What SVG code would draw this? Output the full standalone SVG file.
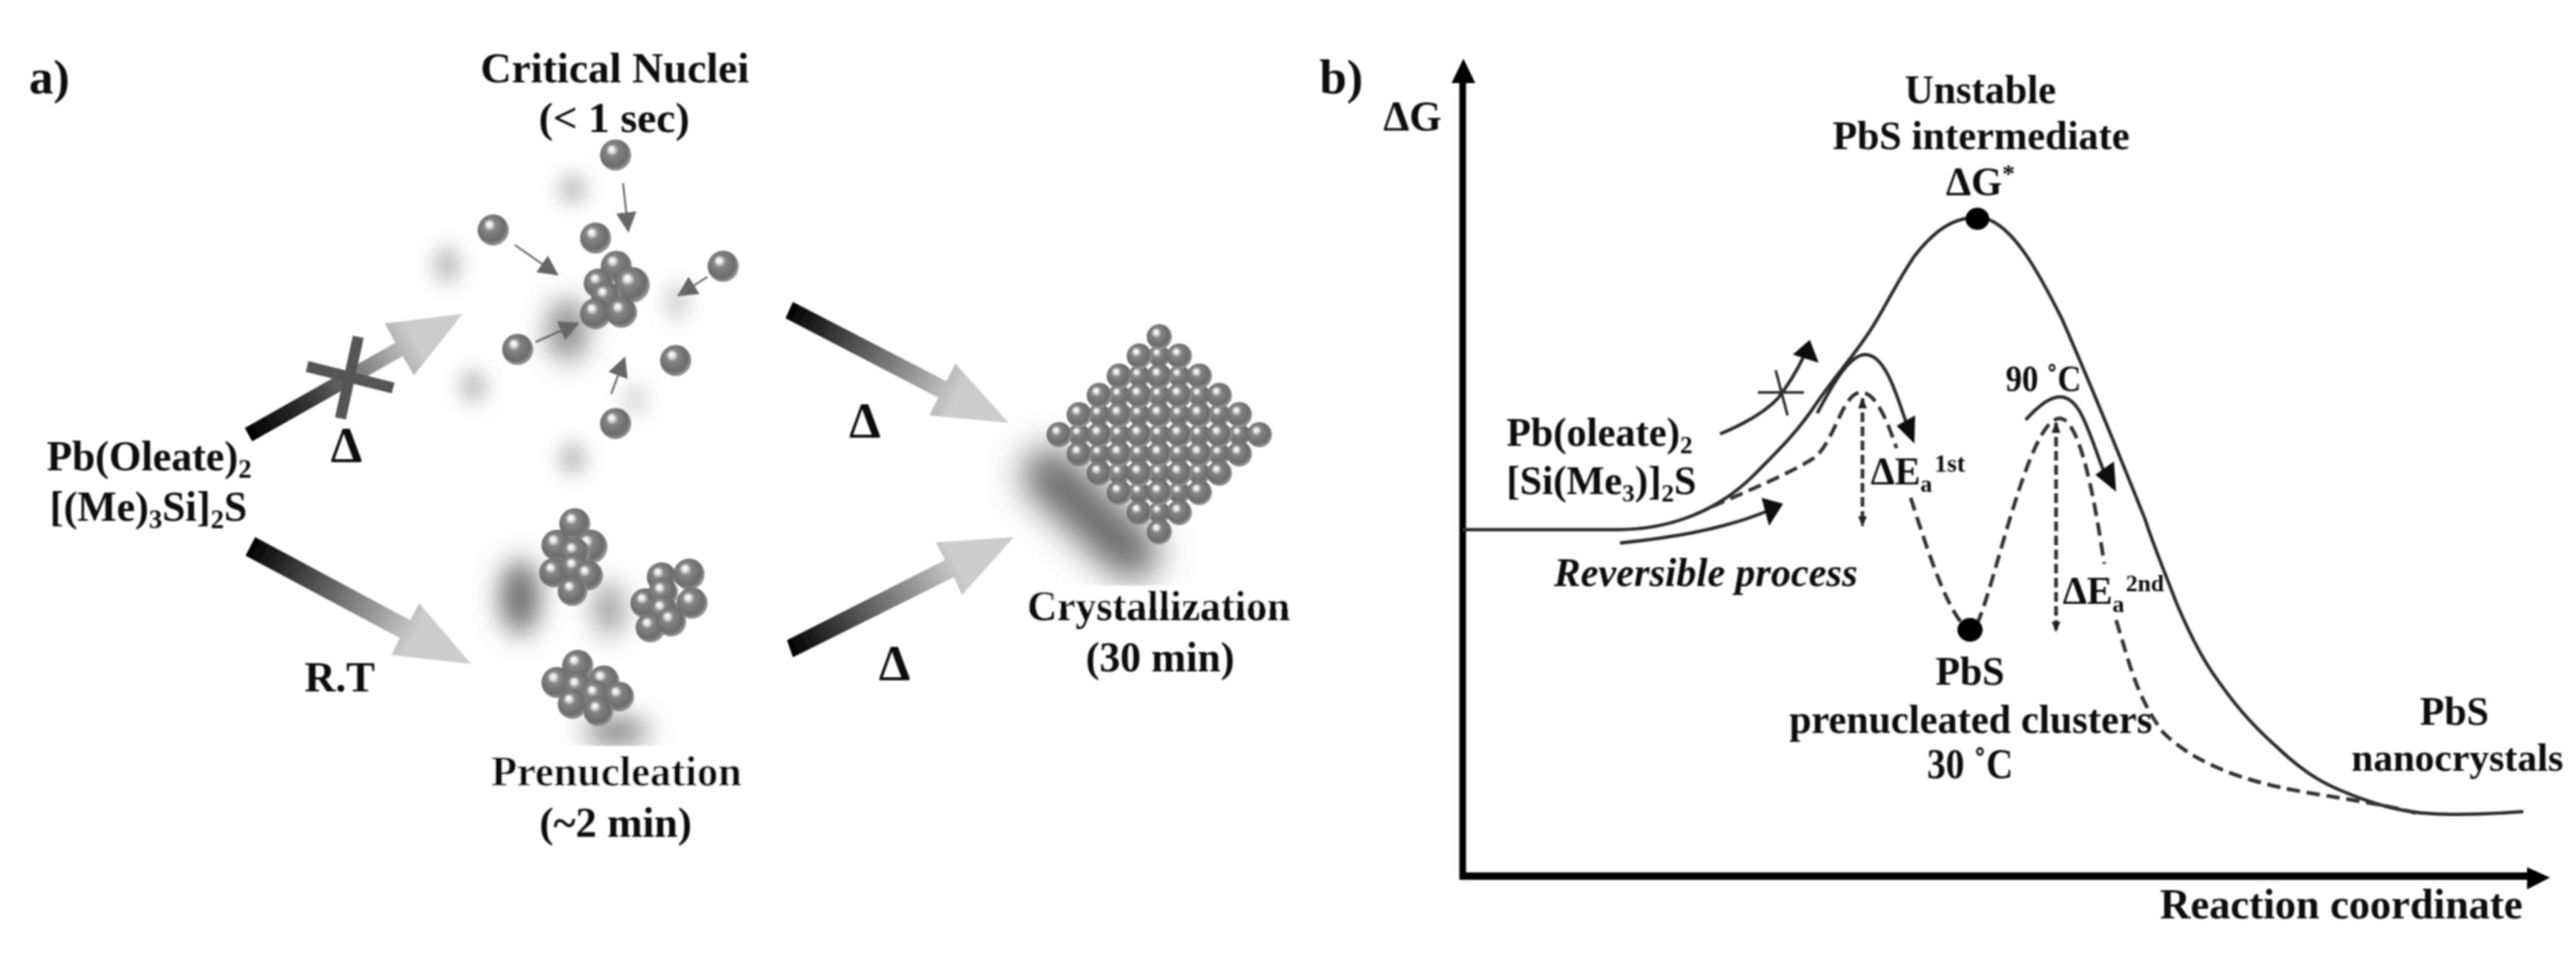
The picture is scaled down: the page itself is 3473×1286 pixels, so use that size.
<svg xmlns="http://www.w3.org/2000/svg" width="3473" height="1286" viewBox="0 0 3473 1286">
<style>
.t{font-family:"Liberation Serif","Times New Roman",serif;font-weight:bold;fill:#111;font-size:56px}
.m{text-anchor:middle}
.b{fill:url(#ball)}
.ink{fill:none;stroke:#2a2a2a;stroke-width:4.5}
.dash{fill:none;stroke:#333;stroke-width:5;stroke-dasharray:18 9}
.head{fill:#111}
.thin{stroke:#666;stroke-width:2.5;fill:none;marker-end:url(#grayHead)}
.shade{fill:#999;filter:url(#blurS)}
.shadeL{fill:#666;filter:url(#blurL)}
.bar{fill:none;stroke:#555;stroke-width:15}
</style>
<defs>
<radialGradient id="ball" cx=".45" cy=".45" r=".6" fx=".36" fy=".3">
<stop offset="0" stop-color="#fff"/><stop offset=".14" stop-color="#e8e8e8"/><stop offset=".32" stop-color="#858585"/><stop offset=".75" stop-color="#6b6b6b"/><stop offset="1" stop-color="#ababab"/>
</radialGradient>
<linearGradient id="g1" gradientUnits="userSpaceOnUse" x1="335" y1="586" x2="560" y2="458"><stop offset="0" stop-color="#000"/><stop offset=".35" stop-color="#333"/><stop offset="1" stop-color="#ccc"/></linearGradient>
<linearGradient id="g2" gradientUnits="userSpaceOnUse" x1="337" y1="736" x2="560" y2="855"><stop offset="0" stop-color="#000"/><stop offset="1" stop-color="#ccc"/></linearGradient>
<linearGradient id="g3" gradientUnits="userSpaceOnUse" x1="1064" y1="418" x2="1290" y2="535"><stop offset="0" stop-color="#000"/><stop offset="1" stop-color="#ccc"/></linearGradient>
<linearGradient id="g4" gradientUnits="userSpaceOnUse" x1="1065" y1="875" x2="1290" y2="760"><stop offset="0" stop-color="#000"/><stop offset="1" stop-color="#ccc"/></linearGradient>
<filter id="blurS" x="-100%" y="-100%" width="300%" height="300%"><feGaussianBlur stdDeviation="13"/></filter>
<filter id="blurL" x="-100%" y="-100%" width="300%" height="300%"><feGaussianBlur stdDeviation="18"/></filter>
<filter id="blurX" filterUnits="userSpaceOnUse" x="1250" y="500" width="420" height="400"><feGaussianBlur stdDeviation="24"/></filter>
<filter id="soft" filterUnits="userSpaceOnUse" x="0" y="0" width="3473" height="1286"><feGaussianBlur stdDeviation="1.1"/></filter>
<marker id="grayHead" viewBox="0 0 10 10" refX="9" refY="5" markerWidth="11" markerHeight="11" orient="auto-start-reverse" markerUnits="strokeWidth"><path d="M0 0L10 5L0 10z" fill="#666"/></marker>
<marker id="tiny" viewBox="0 0 10 10" refX="9" refY="5" markerWidth="3" markerHeight="3" orient="auto-start-reverse" markerUnits="strokeWidth"><path d="M0 1L10 5L0 9z" fill="#222"/></marker>
</defs>
<rect width="3473" height="1286" fill="#fff"/>
<g filter="url(#soft)">

<g id="shadows">
<ellipse class="shade" cx="772" cy="255" rx="18" ry="20" opacity=".65"/>
<ellipse class="shade" cx="603" cy="357" rx="18" ry="25" opacity=".65"/>
<ellipse class="shade" cx="638" cy="521" rx="18" ry="22" opacity=".65"/>
<ellipse class="shade" cx="772" cy="618" rx="18" ry="22" opacity=".65"/>
<ellipse class="shade" cx="912" cy="407" rx="16" ry="26" opacity=".45"/>
<ellipse class="shade" cx="856" cy="539" rx="18" ry="22" opacity=".35"/>
<ellipse class="shadeL" cx="765" cy="445" rx="28" ry="42" opacity=".75"/>
<ellipse class="shadeL" cx="701" cy="805" rx="26" ry="50"/>
<ellipse class="shadeL" cx="821" cy="821" rx="20" ry="36" opacity=".7"/>
<ellipse class="shadeL" cx="831" cy="986" rx="44" ry="16"/>
<rect x="620" y="1006" width="420" height="60" fill="#fff"/>
<path d="M1415 640L1525 745" fill="none" stroke="#666" stroke-width="72" stroke-linecap="round" filter="url(#blurX)"/>
<rect x="1350" y="790" width="420" height="30" fill="#fff"/>
</g>

<g id="node-critical-nuclei">
<text class="t m" x="829" y="111" style="font-size:58px">Critical Nuclei</text>
<text class="t m" x="828" y="178" style="font-size:58px">(&lt; 1 sec)</text>
<circle class="b" cx="830" cy="209" r="21"/>
<circle class="b" cx="665" cy="310" r="21"/>
<circle class="b" cx="803" cy="321" r="21"/>
<circle class="b" cx="975" cy="359" r="21"/>
<circle class="b" cx="698" cy="471" r="21"/>
<circle class="b" cx="911" cy="486" r="21"/>
<circle class="b" cx="830" cy="571" r="21"/>
<circle class="b" cx="831" cy="359" r="21"/>
<circle class="b" cx="807" cy="382" r="20"/>
<circle class="b" cx="852" cy="384" r="24"/>
<circle class="b" cx="817" cy="400" r="20"/>
<circle class="b" cx="803" cy="423" r="21"/>
<circle class="b" cx="838" cy="421" r="21"/>
<path class="thin" d="M840 247L847 311"/>
<path class="thin" d="M694 330L751 370"/>
<path class="thin" d="M954 373L915 398"/>
<path class="thin" d="M722 461L779 436"/>
<path class="thin" d="M824 531L842 483"/>
</g>

<g id="node-prenucleation">
<circle class="b" cx="775" cy="706" r="21"/><circle class="b" cx="751" cy="735" r="21"/><circle class="b" cx="796" cy="737" r="23"/><circle class="b" cx="775" cy="745" r="20"/><circle class="b" cx="747" cy="772" r="20"/><circle class="b" cx="775" cy="766" r="20"/><circle class="b" cx="793" cy="776" r="20"/><circle class="b" cx="772" cy="797" r="20"/>
<circle class="b" cx="892" cy="778" r="20"/><circle class="b" cx="929" cy="774" r="21"/><circle class="b" cx="870" cy="813" r="20"/><circle class="b" cx="894" cy="799" r="20"/><circle class="b" cx="933" cy="813" r="21"/><circle class="b" cx="894" cy="823" r="20"/><circle class="b" cx="877" cy="846" r="20"/><circle class="b" cx="905" cy="838" r="20"/>
<circle class="b" cx="779" cy="897" r="21"/><circle class="b" cx="751" cy="920" r="21"/><circle class="b" cx="814" cy="918" r="21"/><circle class="b" cx="779" cy="926" r="20"/><circle class="b" cx="803" cy="937" r="20"/><circle class="b" cx="772" cy="949" r="20"/><circle class="b" cx="835" cy="939" r="20"/><circle class="b" cx="807" cy="959" r="20"/>
<text class="t m" x="831" y="1059" style="font-size:57px">Prenucleation</text>
<text class="t m" x="830" y="1128" style="font-size:57px">(~2 min)</text>
</g>

<g id="node-crystallization">
<circle class="b" cx="1563" cy="480" r="15"/>
<circle class="b" cx="1536" cy="507" r="15"/><circle class="b" cx="1590" cy="507" r="15"/>
<circle class="b" cx="1509" cy="533" r="15"/><circle class="b" cx="1563" cy="533" r="15"/><circle class="b" cx="1617" cy="533" r="15"/>
<circle class="b" cx="1482" cy="559" r="15"/><circle class="b" cx="1536" cy="559" r="15"/><circle class="b" cx="1590" cy="559" r="15"/><circle class="b" cx="1644" cy="559" r="15"/>
<circle class="b" cx="1455" cy="586" r="15"/><circle class="b" cx="1509" cy="586" r="15"/><circle class="b" cx="1563" cy="586" r="15"/><circle class="b" cx="1617" cy="586" r="15"/><circle class="b" cx="1671" cy="586" r="15"/>
<circle class="b" cx="1482" cy="612" r="15"/><circle class="b" cx="1536" cy="612" r="15"/><circle class="b" cx="1590" cy="612" r="15"/><circle class="b" cx="1644" cy="612" r="15"/>
<circle class="b" cx="1509" cy="638" r="15"/><circle class="b" cx="1563" cy="638" r="15"/><circle class="b" cx="1617" cy="638" r="15"/>
<circle class="b" cx="1536" cy="664" r="15"/><circle class="b" cx="1590" cy="664" r="15"/>
<circle class="b" cx="1563" cy="691" r="15"/>
<circle class="b" cx="1563" cy="454" r="17"/>
<circle class="b" cx="1536" cy="480" r="17"/><circle class="b" cx="1590" cy="480" r="17"/>
<circle class="b" cx="1509" cy="507" r="17"/><circle class="b" cx="1563" cy="507" r="17"/><circle class="b" cx="1617" cy="507" r="17"/>
<circle class="b" cx="1482" cy="533" r="17"/><circle class="b" cx="1536" cy="533" r="17"/><circle class="b" cx="1590" cy="533" r="17"/><circle class="b" cx="1644" cy="533" r="17"/>
<circle class="b" cx="1455" cy="559" r="17"/><circle class="b" cx="1509" cy="559" r="17"/><circle class="b" cx="1563" cy="559" r="17"/><circle class="b" cx="1617" cy="559" r="17"/><circle class="b" cx="1671" cy="559" r="17"/>
<circle class="b" cx="1428" cy="586" r="17"/><circle class="b" cx="1482" cy="586" r="17"/><circle class="b" cx="1536" cy="586" r="17"/><circle class="b" cx="1590" cy="586" r="17"/><circle class="b" cx="1644" cy="586" r="17"/><circle class="b" cx="1698" cy="586" r="17"/>
<circle class="b" cx="1455" cy="612" r="17"/><circle class="b" cx="1509" cy="612" r="17"/><circle class="b" cx="1563" cy="612" r="17"/><circle class="b" cx="1617" cy="612" r="17"/><circle class="b" cx="1671" cy="612" r="17"/>
<circle class="b" cx="1482" cy="638" r="17"/><circle class="b" cx="1536" cy="638" r="17"/><circle class="b" cx="1590" cy="638" r="17"/><circle class="b" cx="1644" cy="638" r="17"/>
<circle class="b" cx="1509" cy="664" r="17"/><circle class="b" cx="1563" cy="664" r="17"/><circle class="b" cx="1617" cy="664" r="17"/>
<circle class="b" cx="1536" cy="691" r="17"/><circle class="b" cx="1590" cy="691" r="17"/>
<circle class="b" cx="1563" cy="717" r="17"/>
<text class="t m" x="1562" y="836" style="font-size:56px">Crystallization</text>
<text class="t m" x="1564" y="905" style="font-size:56px">(30 min)</text>
</g>

<g id="node-reagents">
<text class="t" x="63" y="634">Pb(Oleate)<tspan dy="10" style="font-size:36px">2</tspan></text>
<text class="t" x="67" y="702">[(Me)<tspan dy="10" style="font-size:36px">3</tspan><tspan dy="-10">Si]</tspan><tspan dy="10" style="font-size:36px">2</tspan><tspan dy="-10">S</tspan></text>
</g>

<g id="connectors-a">
<polygon fill="url(#g1)" points="330,577 533,462 519,436 624,423 558,506 543,480 340,595"/>
<path class="bar" d="M483 454L459 564"/>
<path class="bar" d="M414 494L530 523"/>
<polygon fill="url(#g2)" points="344,724 553,836 565,813 635,895 528,883 539,860 331,749"/>
<polygon fill="url(#g3)" points="1069,407 1276,514 1288,490 1360,570 1253,560 1265,536 1059,429"/>
<polygon fill="url(#g4)" points="1061,863 1274,755 1262,731 1367,724 1297,802 1286,778 1069,886"/>
</g>

<g id="labels-a">
<text class="t" x="39" y="126" style="font-size:66px">a)</text>
<text class="t m" x="467" y="622" style="font-size:68px">Δ</text>
<text class="t m" x="1166" y="589" style="font-size:68px">Δ</text>
<text class="t m" x="1206" y="916" style="font-size:68px">Δ</text>
<text class="t m" x="458" y="932" style="font-size:58px">R.T</text>
</g>

<g id="axes">
<path d="M1972 105V1186" stroke="#000" stroke-width="9" fill="none"/>
<polygon points="1973,79 1957,112 1989,112" fill="#000"/>
<path d="M1968 1181H3410" stroke="#000" stroke-width="10" fill="none"/>
<polygon points="3438,1183 3407,1169 3407,1199" fill="#000"/>
</g>

<g id="connectors-b">
<path class="ink" d="M1972 714L2180 714C2250 714 2315 690 2365 640C2400 605 2425 580 2448 545C2475 505 2500 480 2525 440C2545 408 2560 375 2582 344C2605 315 2630 293 2666 293C2710 293 2750 370 2780 430C2815 510 2860 620 2892 700C2905 740 2920 775 2934 812C2950 850 2970 890 2990 917C3020 960 3045 985 3073 1010C3105 1040 3130 1055 3157 1066C3190 1080 3220 1090 3251 1094C3280 1099 3340 1099 3402 1094"/>
<path class="dash" d="M2308 683C2360 660 2410 640 2448 616C2475 590 2485 529 2509 529C2530 529 2545 570 2557 604"/>
<path class="dash" d="M2576 671C2595 730 2620 810 2645 840"/>
<path class="dash" d="M2665 842C2690 790 2735 564 2777 564C2805 564 2825 680 2837 760"/>
<path class="dash" d="M2853 836C2870 890 2880 940 2917 988C2950 1020 3000 1045 3073 1061C3120 1072 3200 1080 3257 1096"/>
<path class="dash" d="M2511 537V709" marker-start="url(#tiny)" marker-end="url(#tiny)" style="stroke-dasharray:13 6"/>
<path class="dash" d="M2772 570V851" marker-start="url(#tiny)" marker-end="url(#tiny)" style="stroke-dasharray:13 6"/>
<path class="ink" d="M2450 557C2475 510 2495 478 2515 478C2540 478 2555 525 2570 570"/>
<polygon class="head" points="2581,598 2557,574 2582,560"/>
<path class="ink" d="M2731 566C2750 545 2765 535 2777 535C2805 535 2815 580 2838 640"/>
<polygon class="head" points="2853,663 2825,640 2850,622"/>
<path class="ink" d="M2319 585C2355 570 2380 555 2397 537C2410 520 2420 505 2431 482"/>
<polygon class="head" points="2440,458 2417,478 2452,489"/>
<path class="ink" d="M2370 529H2432M2394 499L2410 560" style="stroke-width:3.5"/>
<path class="ink" d="M2184 732C2250 725 2320 715 2385 688"/>
<polygon class="head" points="2404,679 2375,671 2385,709"/>
</g>

<g id="node-intermediate">
<ellipse cx="2666" cy="295" rx="16" ry="15" fill="#000"/>
<text class="t m" x="2670" y="139" style="font-size:54px">Unstable</text>
<text class="t m" x="2671" y="201" style="font-size:54px">PbS intermediate</text>
<text class="t m" x="2670" y="263" style="font-size:54px">ΔG<tspan dy="-18" style="font-size:34px">*</tspan></text>
</g>
<g id="node-clusters">
<ellipse cx="2656" cy="849" rx="17" ry="16" fill="#000"/>
<text class="t m" x="2656" y="923" style="font-size:54px">PbS</text>
<text class="t m" x="2657" y="988" style="font-size:54px">prenucleated clusters</text>
<text class="t m" x="2656" y="1049" style="font-size:56px" textLength="116" lengthAdjust="spacingAndGlyphs">30 ˚C</text>
</g>
<g id="node-nanocrystals">
<text class="t m" x="3309" y="977" style="font-size:54px">PbS</text>
<text class="t m" x="3313" y="1039" style="font-size:53px">nanocrystals</text>
</g>
<g id="labels-b">
<text class="t" x="1779" y="126" style="font-size:66px">b)</text>
<text class="t" x="1865" y="176" style="font-size:56px">ΔG</text>
<text class="t" x="2031" y="601" style="font-size:54px">Pb(oleate)<tspan dy="10" style="font-size:34px">2</tspan></text>
<text class="t" x="2031" y="666" style="font-size:54px">[Si(Me<tspan dy="10" style="font-size:34px">3</tspan><tspan dy="-10">)]</tspan><tspan dy="10" style="font-size:34px">2</tspan><tspan dy="-10">S</tspan></text>
<text class="t" x="2095" y="790" style="font-size:54px;font-style:italic">Reversible process</text>
<text class="t" x="2522" y="653" style="font-size:52px">ΔE</text>
<text class="t" x="2589" y="663" style="font-size:32px">a</text>
<text class="t" x="2608" y="636" style="font-size:34px">1st</text>
<text class="t" x="2781" y="814" style="font-size:52px">ΔE</text>
<text class="t" x="2848" y="825" style="font-size:32px">a</text>
<text class="t" x="2866" y="797" style="font-size:32px">2nd</text>
<text class="t" x="2704" y="527" style="font-size:50px" textLength="102" lengthAdjust="spacingAndGlyphs">90 ˚C</text>
<text class="t" x="2912" y="1238" style="font-size:57px">Reaction coordinate</text>
</g>
</g>
</svg>
